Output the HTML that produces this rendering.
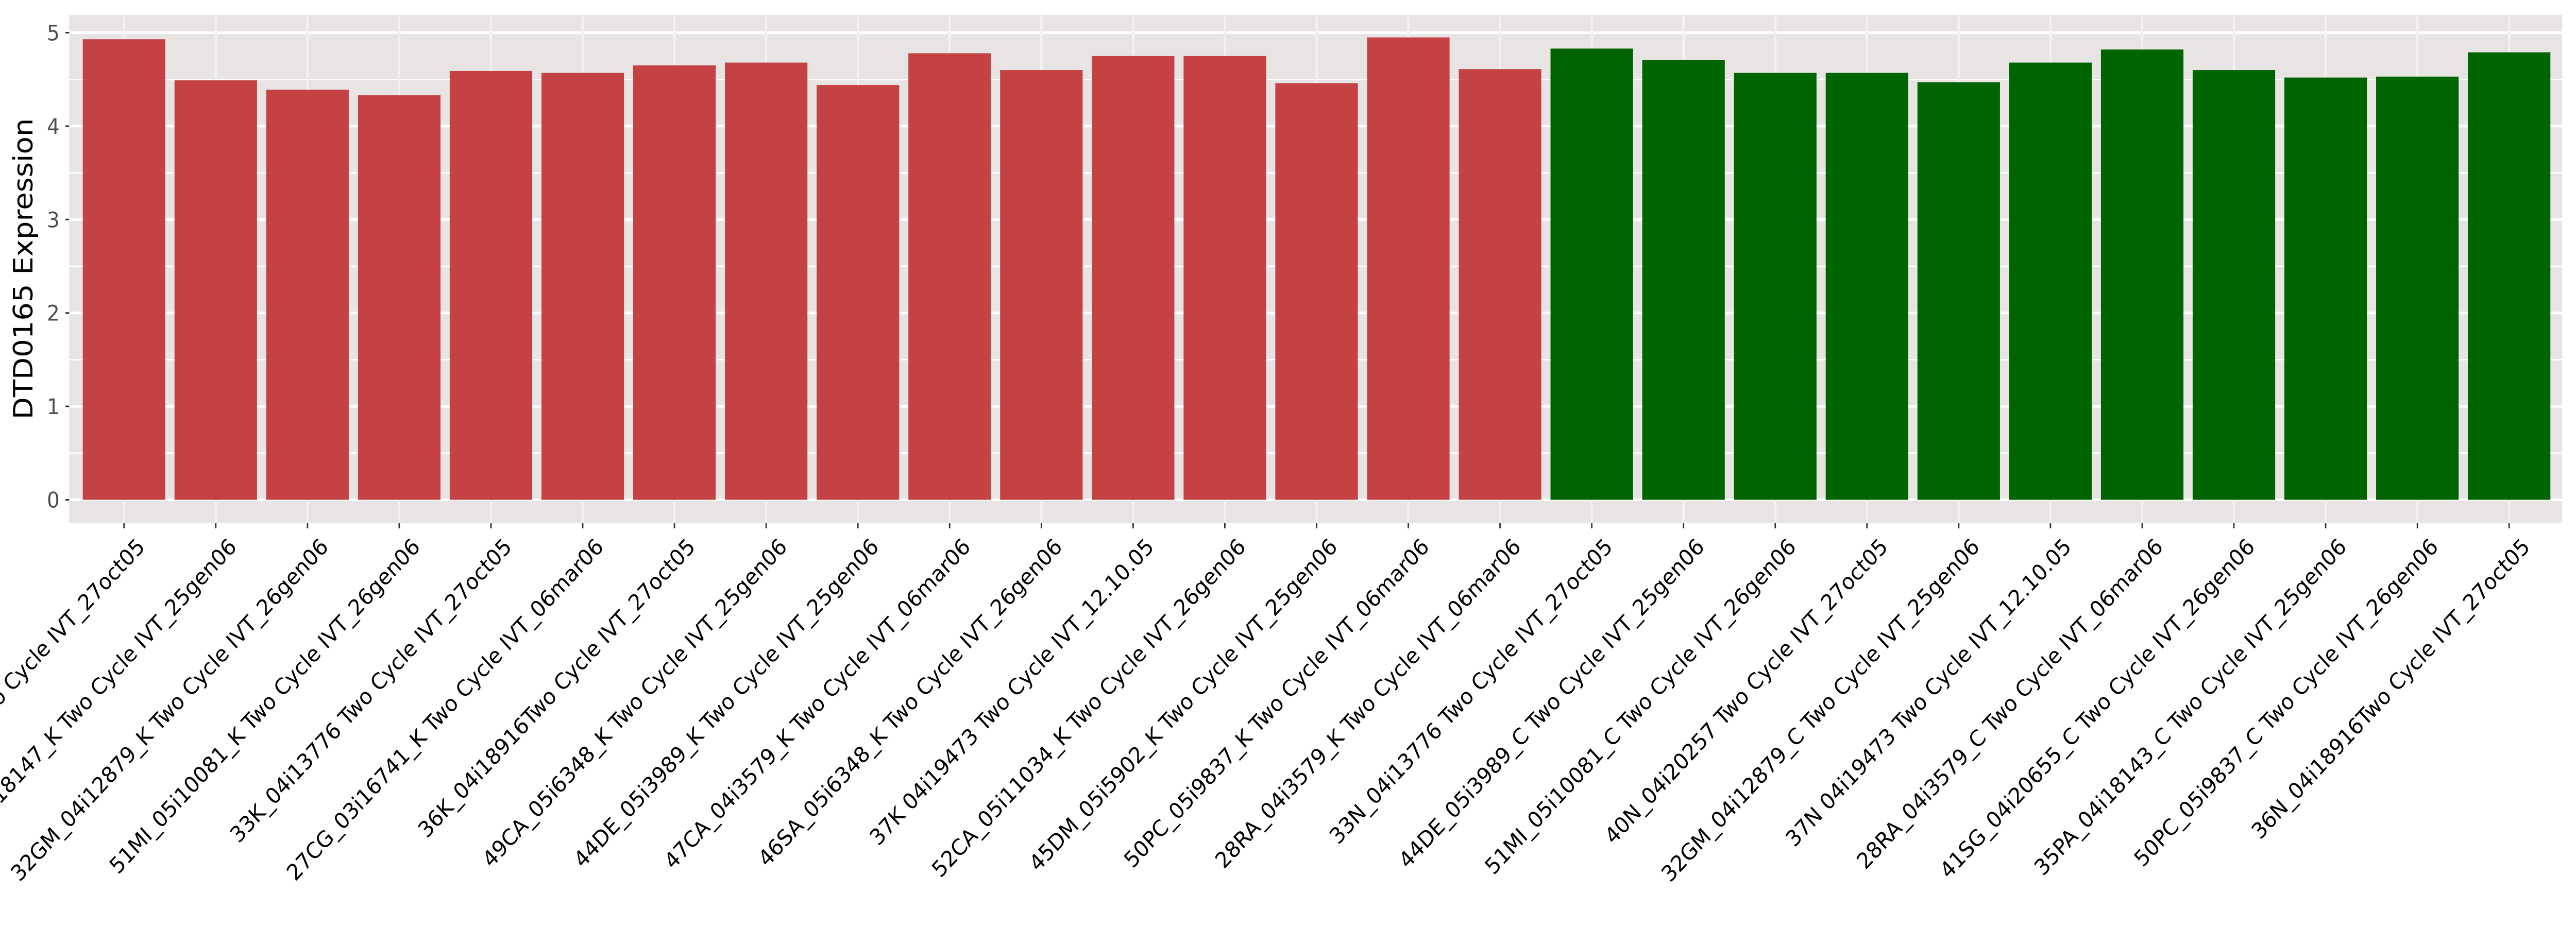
<!DOCTYPE html>
<html><head><meta charset="utf-8"><style>
html,body{margin:0;padding:0;background:#fff;overflow:hidden;width:100%;height:100%;}
svg{display:block;position:fixed;left:0;top:0;width:100vw;height:100vh;}
text{font-family:"DejaVu Sans","Liberation Sans",sans-serif;}
</style></head><body>
<svg id="chart" viewBox="0 0 5400 1800" preserveAspectRatio="none" xmlns="http://www.w3.org/2000/svg">
<rect x="145" y="29" width="5226" height="987" fill="#e8e4e4"/>
<g id="grid"></g>
<g id="bars"></g>
<g id="yaxis"></g>
<g id="xaxis"></g>
<text transform="translate(68,522) rotate(-90)" text-anchor="middle" font-size="56" fill="#000">DTD0165 Expression</text>
</svg>
<script>
const categories = [
"40N_04i20257 Two Cycle IVT_27oct05",
"35PA_04i18147_K Two Cycle IVT_25gen06",
"32GM_04i12879_K Two Cycle IVT_26gen06",
"51MI_05i10081_K Two Cycle IVT_26gen06",
"33K_04i13776 Two Cycle IVT_27oct05",
"27CG_03i16741_K Two Cycle IVT_06mar06",
"36K_04i18916Two Cycle IVT_27oct05",
"49CA_05i6348_K Two Cycle IVT_25gen06",
"44DE_05i3989_K Two Cycle IVT_25gen06",
"47CA_04i3579_K Two Cycle IVT_06mar06",
"46SA_05i6348_K Two Cycle IVT_26gen06",
"37K 04i19473 Two Cycle IVT_12.10.05",
"52CA_05i11034_K Two Cycle IVT_26gen06",
"45DM_05i5902_K Two Cycle IVT_25gen06",
"50PC_05i9837_K Two Cycle IVT_06mar06",
"28RA_04i3579_K Two Cycle IVT_06mar06",
"33N_04i13776 Two Cycle IVT_27oct05",
"44DE_05i3989_C Two Cycle IVT_25gen06",
"51MI_05i10081_C Two Cycle IVT_26gen06",
"40N_04i20257 Two Cycle IVT_27oct05",
"32GM_04i12879_C Two Cycle IVT_25gen06",
"37N 04i19473 Two Cycle IVT_12.10.05",
"28RA_04i3579_C Two Cycle IVT_06mar06",
"41SG_04i20655_C Two Cycle IVT_26gen06",
"35PA_04i18143_C Two Cycle IVT_25gen06",
"50PC_05i9837_C Two Cycle IVT_26gen06",
"36N_04i18916Two Cycle IVT_27oct05"
];
const values = [4.93,4.49,4.39,4.33,4.59,4.57,4.65,4.68,4.44,4.78,4.60,4.75,4.75,4.46,4.95,4.61,
4.83,4.71,4.57,4.57,4.47,4.68,4.82,4.60,4.52,4.53,4.79];
const groups = ["K","K","K","K","K","K","K","K","K","K","K","K","K","K","K","K",
"C","C","C","C","C","C","C","C","C","C","C"];
const yTicks = [0,1,2,3,4,5];
const yTickLabels = ["0","1","2","3","4","5"];
const colors = {K:"#c44244", C:"#006400"};

const NS = "http://www.w3.org/2000/svg";
const x0 = 260, step = 192.3, barW = 173;
function xPos(i){ return x0 + i*step; }
function yPos(v){ return 970.5 - v*181.4; }
function mk(tag, attrs, parent){ const e=document.createElementNS(NS,tag); for(const k in attrs) e.setAttribute(k,attrs[k]); parent.appendChild(e); return e; }

const grid = document.getElementById('grid');
for (let v=-0.5; v<=5.5; v+=0.5){
  const y=yPos(v); if (y<29||y>1016) continue;
  const l = mk('line',{x1:145,x2:5371,y1:y,y2:y,stroke:"#ffffff","stroke-width":(Math.abs(v%1)<1e-9?5:2.5)},grid);
  
  
}
categories.forEach((c,i)=>{
  const l = mk('line',{x1:xPos(i),x2:xPos(i),y1:29,y2:1016,stroke:"#f2f0f0","stroke-width":5},grid);
  
  
});

const bars = document.getElementById('bars');
values.forEach((v,i)=>{
  const r = mk('rect',{x:xPos(i)-barW/2,y:yPos(v),width:barW,height:yPos(0)-yPos(v),fill:colors[groups[i]]},bars);
  
  
});

const ya = document.getElementById('yaxis');
yTicks.forEach((t,i)=>{
  const l = mk('line',{x1:137,x2:145,y1:yPos(t),y2:yPos(t),stroke:"#333","stroke-width":3},ya);
  
  
  const tx = mk('text',{x:125,y:yPos(t)+15,"text-anchor":"end","font-size":42,fill:"#4d4d4d"},ya);
  tx.textContent = yTickLabels[i];
  
  
});

const xa = document.getElementById('xaxis');
categories.forEach((c,i)=>{
  const x=xPos(i);
  const l = mk('line',{x1:x,x2:x,y1:1016,y2:1026,stroke:"#333","stroke-width":3},xa);
  
  
  const tx = mk('text',{transform:`translate(${x+46},${1064}) rotate(-45)`,"text-anchor":"end","font-size":43,fill:"#000"},xa);
  tx.textContent = c;
  
  
});
</script>
</body></html>
